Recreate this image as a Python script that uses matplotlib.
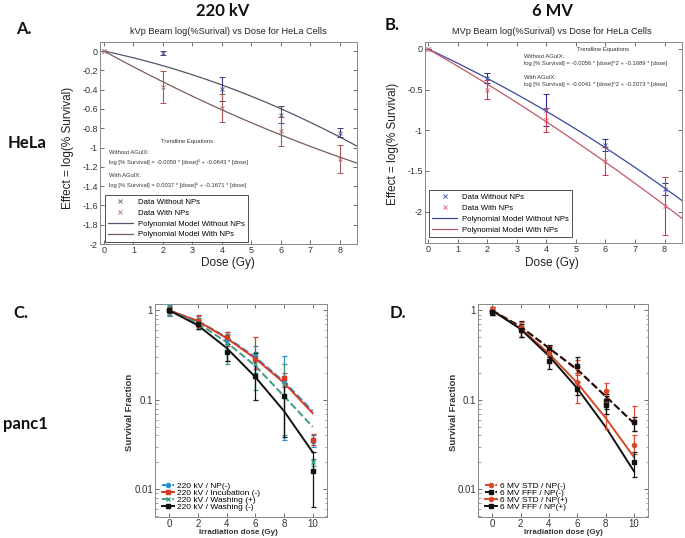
import numpy as np
import matplotlib
matplotlib.use('Agg')
import matplotlib.pyplot as plt
from matplotlib.lines import Line2D

plt.rcParams['font.family'] = ['Liberation Sans', 'DejaVu Sans']

W, H = 685, 538

# ---------- HeLa (A: 220 kV, B: 6 MV) ----------
dose_hela = [0, 2, 4, 6, 8]

a_without = [0, -0.02, -0.39, -0.66, -0.845]
a_without_err = [0, 0.02, 0.125, 0.09, 0.045]
a_with = [0, -0.37, -0.59, -0.83, -1.12]
a_with_err = [0, 0.165, 0.15, 0.15, 0.145]
a_coef_without = (-0.0059, -0.0643)   # dose^2, dose
a_coef_with = (0.0037, -0.1671)

b_without = [0, -0.36, -0.75, -1.18, -1.72]
b_without_err = [0, 0.06, 0.2, 0.075, 0.075]
b_with = [0, -0.5, -0.87, -1.38, -1.93]
b_with_err = [0, 0.12, 0.15, 0.17, 0.36]
b_coef_without = (-0.0056, -0.1689)
b_coef_with = (-0.0041, -0.2073)

# ---------- panc1 (C: 220 kV, D: 6 MV) ----------
dose_panc = [0, 2, 4, 6, 8, 10]

c_labels = ['220 kV / NP(-)', '220 kV / Incubation (-)', '220 kV / Washing (+)', '220 kV / Washing (-)']
c_vals = [[1.0, 0.74, 0.48, 0.31, 0.165, 0.035],
          [1.0, 0.76, 0.50, 0.29, 0.175, 0.036],
          [1.0, 0.72, 0.42, 0.25, 0.15, 0.020],
          [1.0, 0.70, 0.34, 0.185, 0.11, 0.016]]
c_lo = [[0.87, 0.62, 0.27, 0.20, 0.036, 0.030],
        [0.90, 0.65, 0.40, 0.22, 0.14, 0.031],
        [0.88, 0.62, 0.25, 0.13, 0.04, 0.018],
        [0.93, 0.62, 0.27, 0.10, 0.038, 0.0063]]
c_hi = [[1.15, 0.86, 0.58, 0.40, 0.31, 0.040],
        [1.10, 0.90, 0.58, 0.50, 0.20, 0.041],
        [1.12, 0.82, 0.55, 0.34, 0.25, 0.022],
        [1.07, 0.78, 0.42, 0.33, 0.155, 0.026]]
c_fit = [[1.0, 0.76, 0.50, 0.30, 0.16, 0.075],
         [1.0, 0.76, 0.49, 0.29, 0.155, 0.071],
         [1.0, 0.72, 0.44, 0.24, 0.11, 0.05],
         [1.0, 0.68, 0.38, 0.18, 0.075, 0.026]]

d_labels = ['6 MV STD / NP(-)', '6 MV FFF / NP(-)', '6 MV STD / NP(+)', '6 MV FFF / NP(+)']
d_vals = [[0.98, 0.66, 0.36, 0.235, 0.127, 0.058],
          [0.98, 0.63, 0.37, 0.24, 0.096, 0.056],
          [1.0, 0.64, 0.33, 0.158, 0.09, 0.031],
          [0.95, 0.60, 0.27, 0.133, 0.088, 0.020]]
d_lo = [[0.90, 0.57, 0.30, 0.19, 0.105, 0.045],
        [0.90, 0.50, 0.30, 0.20, 0.08, 0.045],
        [0.92, 0.50, 0.26, 0.092, 0.047, 0.025],
        [0.88, 0.50, 0.22, 0.114, 0.07, 0.0137]]
d_hi = [[1.08, 0.75, 0.40, 0.28, 0.155, 0.086],
        [1.08, 0.76, 0.41, 0.30, 0.115, 0.065],
        [1.10, 0.74, 0.39, 0.20, 0.13, 0.040],
        [1.05, 0.70, 0.32, 0.16, 0.11, 0.026]]
d_fit = [[1.0, 0.66, 0.38, 0.215, 0.11, 0.055],
         [1.0, 0.66, 0.38, 0.22, 0.11, 0.055],
         [1.0, 0.63, 0.33, 0.155, 0.063, 0.023],
         [1.0, 0.62, 0.31, 0.135, 0.05, 0.016]]


def fx(x, y):
    return x / W, 1 - y / H


def box(l, t, r, b):
    return [l / W, 1 - b / H, (r - l) / W, (b - t) / H]


fig = plt.figure(figsize=(W / 100, H / 100), dpi=100)


def style_axes(ax, fs):
    ax.tick_params(direction='in', top=True, right=True, length=3, width=0.6,
                   colors='#555555', labelcolor='#333333', labelsize=fs, pad=1.5)
    ax.tick_params(which='minor', direction='in', top=True, right=True, length=1.8,
                   width=0.5, colors='#777777')
    for s in ax.spines.values():
        s.set_color('#888888')
        s.set_linewidth(0.7)


def hela_panel(rect, xlim, ylim, yticks, w, we, n, ne, cw, cn, cols, title, tcx, eq_pos, eqs, leg_anchor, ylx, yly):
    ax = fig.add_axes(rect)
    c_bar_w, c_bar_n, c_line_w, c_line_n, c_mk_w, c_mk_n = cols
    ax.errorbar(dose_hela, w, yerr=we, fmt='x', ms=2.5, mew=0.7, color=c_mk_w,
                ecolor=c_bar_w, elinewidth=0.8, capsize=2.5, capthick=0.8, zorder=3)
    ax.errorbar(dose_hela, n, yerr=ne, fmt='x', ms=2.5, mew=0.7, color=c_mk_n,
                ecolor=c_bar_n, elinewidth=0.8, capsize=2.5, capthick=0.8, zorder=3)
    xx = np.linspace(0, xlim[1], 100)
    ax.plot(xx, cw[0] * xx ** 2 + cw[1] * xx, color=c_line_w, lw=0.9, zorder=2)
    ax.plot(xx, cn[0] * xx ** 2 + cn[1] * xx, color=c_line_n, lw=0.9, zorder=2)
    ax.set_xlim(*xlim)
    ax.set_ylim(*ylim)
    ax.set_xticks(range(0, 9))
    ax.set_yticks(yticks)
    ax.set_yticklabels([('%g' % v) for v in yticks])
    style_axes(ax, 6.5)
    handles = [Line2D([], [], ls='none', marker='x', ms=2.5, mew=0.7, color=c_mk_w),
               Line2D([], [], ls='none', marker='x', ms=2.5, mew=0.7, color=c_mk_n),
               Line2D([], [], color=c_line_w, lw=0.9),
               Line2D([], [], color=c_line_n, lw=0.9)]
    leg = ax.legend(handles, ['Data Without NPs', 'Data With NPs',
                              'Polynomial Model Without NPs', 'Polynomial Model With NPs'],
                    loc='lower left', bbox_to_anchor=leg_anchor, borderaxespad=0,
                    fontsize=5.6, fancybox=False, handlelength=3.2, handletextpad=0.6,
                    labelspacing=0.45, borderpad=0.4)
    leg.get_frame().set_edgecolor('#222222')
    leg.get_frame().set_linewidth(0.7)
    fig.text(*fx(tcx, 32), title, ha='center', va='center', fontsize=6.6, color='#222222')
    fig.text(*fx(tcx, 263), 'Dose (Gy)', ha='center', va='center', fontsize=8.5, color='#222222')
    fig.text(*fx(ylx, yly), 'Effect = log(% Survival)', ha='center', va='center',
             rotation=90, fontsize=8.5, color='#222222')
    (tx, ty), (ex, e1, e2, e3, e4) = eq_pos
    fig.text(*fx(tx, ty), 'Trendline Equations', ha='center', va='center', fontsize=4.2, color='#333333')
    fig.text(*fx(ex, e1), 'Without AGuIX:', ha='left', va='center', fontsize=4.2, color='#333333')
    fig.text(*fx(ex, e2), eqs[0], ha='left', va='center', fontsize=4.2, color='#333333')
    fig.text(*fx(ex, e3), 'With AGuIX:', ha='left', va='center', fontsize=4.2, color='#333333')
    fig.text(*fx(ex, e4), eqs[1], ha='left', va='center', fontsize=4.2, color='#333333')
    return ax


hela_panel(box(100, 42, 357, 244), (-0.136, 8.58), (-2.0, 0.094),
           [0, -0.2, -0.4, -0.6, -0.8, -1, -1.2, -1.4, -1.6, -1.8, -2],
           a_without, a_without_err, a_with, a_with_err, a_coef_without, a_coef_with,
           ('#3c3c80', '#a05858', '#55556a', '#7a5c5c', '#6a6a90', '#b08080'),
           'kVp Beam log(%Surival) vs Dose for HeLa Cells', 228,
           ((187, 141), (109, 153, 162, 176, 185)),
           ('log [% Survival] = -0.0059 * [dose]² + -0.0643 * [dose]',
            'log [% Survival] = 0.0037 * [dose]² + -0.1671 * [dose]'),
           (0.019, 0.012), 68, 148)

hela_panel(box(425, 42, 682, 243), (-0.1, 8.59), (-2.386, 0.086),
           [0, -0.5, -1, -1.5, -2],
           b_without, b_without_err, b_with, b_with_err, b_coef_without, b_coef_with,
           ('#2a2a90', '#d03848', '#3a48a0', '#c05868', '#5060b0', '#e07080'),
           'MVp Beam log(%Surival) vs Dose for HeLa Cells', 552,
           ((603, 49), (524, 56.5, 63.5, 77.5, 84.5)),
           ('log [% Survival] = -0.0056 * [dose]^2 + -0.1689 * [dose]',
            'log [% Survival] = -0.0041 * [dose]^2 + -0.2073 * [dose]'),
           (0.016, 0.03), 393, 144)


def panc_panel(rect, vals, lo, hi, fit, labels, colors, lstyles, markers, leg_anchor, ylx, xlcx):
    ax = fig.add_axes(rect)
    for i in range(4):
        v = np.array(vals[i])
        err = [v - np.array(lo[i]), np.array(hi[i]) - v]
        ax.plot(dose_panc, fit[i], color=colors[i], ls=lstyles[i], lw=1.4, zorder=2)
        ax.errorbar(dose_panc, v, yerr=err, fmt=markers[i], ms=3, color=colors[i],
                    elinewidth=0.9, capsize=1.8, capthick=0.9, zorder=3)
    ax.set_yscale('log')
    ax.set_xlim(-1, 11)
    ax.set_ylim(0.0049, 1.18)
    ax.set_xticks(dose_panc)
    ax.set_yticks([0.01, 0.1, 1])
    ax.set_yticklabels(['0.01', '0.1', '1'])
    style_axes(ax, 7)
    handles = [Line2D([], [], color=colors[i], ls=lstyles[i], lw=1.4, marker=markers[i], ms=3)
               for i in range(4)]
    ax.legend(handles, labels, loc='lower left', bbox_to_anchor=leg_anchor, borderaxespad=0,
              frameon=False, fontsize=6, handlelength=1.5, handletextpad=0.3,
              labelspacing=-0.12, borderpad=0)
    fig.text(*fx(ylx, 412), 'Survival Fraction', rotation=90, ha='center', va='center',
             fontsize=6.8, fontweight='bold', color='#333333')
    fig.text(*fx(xlcx, 533), 'Irradiation dose (Gy)', ha='center', va='center',
             fontsize=5.8, fontweight='bold', color='#333333')
    return ax


panc_panel(box(155, 304, 327, 517), c_vals, c_lo, c_hi, c_fit, c_labels,
           ['#2590d0', '#d83a22', '#3f9a86', '#111111'], ['--', '-', '--', '-'],
           ['o', 's', 'x', 's'], (0.04, 0.03), 130, 238)

panc_panel(box(478, 304, 648, 517), d_vals, d_lo, d_hi, d_fit, d_labels,
           ['#d84a2a', '#111111', '#d84a2a', '#111111'], ['--', '--', '-', '-'],
           ['o', 's', 'o', 's'], (0.04, 0.03), 453, 563)

# panel letters and group labels
big = dict(fontsize=12, fontweight='bold', family='Lato', ha='center', va='center', color='#111111')
fig.text(*fx(223, 11), '220 kV', **big)
fig.text(*fx(552, 11), '6 MV', **big)
fig.text(*fx(24, 29), 'A.', **big)
fig.text(*fx(392, 25), 'B.', **big)
fig.text(*fx(27, 143), 'HeLa', **big)
fig.text(*fx(21, 313), 'C.', **big)
fig.text(*fx(25, 424), 'panc1', **big)
fig.text(*fx(398, 313), 'D.', **big)

fig.savefig('out.png', dpi=100)
